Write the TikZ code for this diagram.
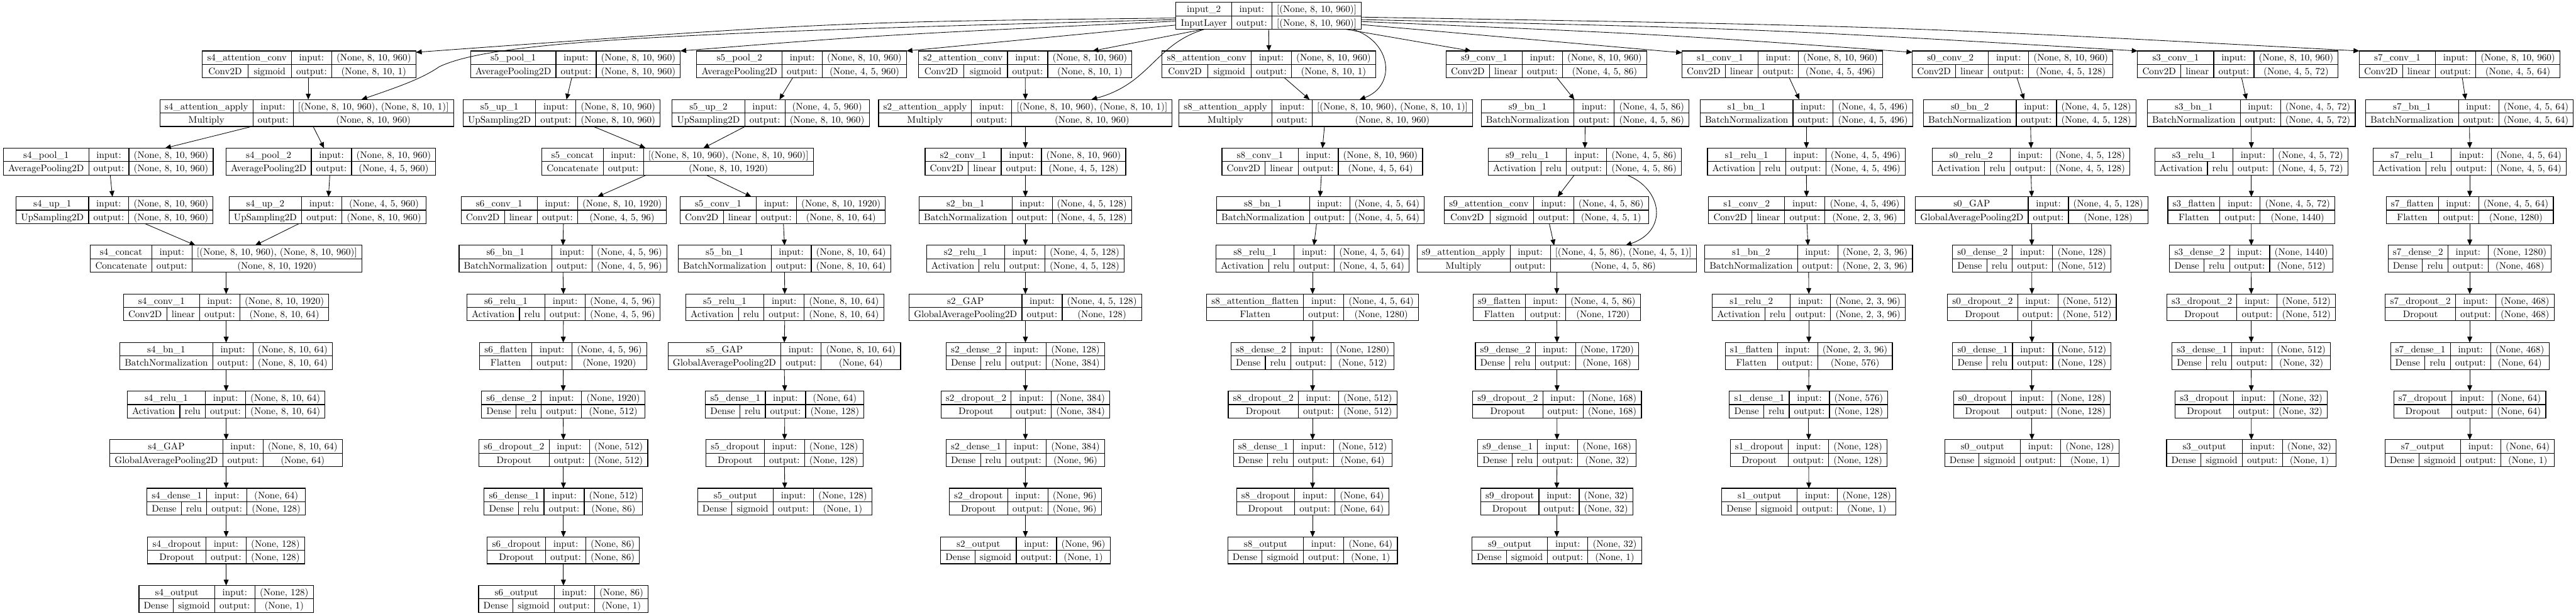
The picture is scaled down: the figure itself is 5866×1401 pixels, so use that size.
\documentclass[tikz,border=0pt]{standalone}
\usetikzlibrary{arrows.meta,calc}
\newdimen\kwT \newdimen\kwC \newdimen\kwA \newdimen\kwI \newdimen\kwO \newdimen\kwIO
\newcommand\kfont{\fontsize{10.8}{13}\selectfont}
\tikzset{
  kline/.style={line width=0.8pt},
  ktext/.style={inner sep=0pt, font=\kfont, text height=7.6pt, text depth=0pt, anchor=center},
  kbox/.style={draw, line width=0.8pt, inner sep=0pt, outer sep=0pt, rectangle},
  kedge/.style={line width=0.6pt, -{Triangle[length=6.6pt,width=5.6pt]}},
}
\newcommand\kmeasure[2]{\pgfinterruptpicture\setbox0=\hbox{\normalfont\kfont #2}\global#1=\wd0\relax\endpgfinterruptpicture}
% \klayer{id}{cx px}{row}{title}{class}{act}{in}{out}
\newcommand\klayer[8]{%
  \kmeasure\kwT{#4}%
  \kmeasure\kwC{#5}%
  \kmeasure\kwA{#6}%
  \kmeasure\kwI{#7}%
  \kmeasure\kwO{#8}%
  \kmeasure\kwIO{output:}%
  \pgfmathsetmacro\kP{11}%
  \pgfmathsetmacro\kTop{\kwT+\kP}%
  \ifdim\kwA>0pt
    \pgfmathsetmacro\kBot{\kwC+\kwA+2*\kP}%
  \else
    \pgfmathsetmacro\kBot{\kwC+\kP}%
  \fi
  \pgfmathsetmacro\kcA{max(\kTop,\kBot)}%
  \pgfmathsetmacro\kcl{\kwC+\kP+(\kcA-\kBot)/2}%
  \pgfmathsetmacro\kcB{\kwIO+\kP}%
  \pgfmathsetmacro\kcC{max(\kwI,\kwO)+\kP}%
  \pgfmathsetmacro\kW{\kcA+\kcB+\kcC}%
  \pgfmathsetmacro\kX{#2*0.5}%
  \pgfmathsetmacro\kYt{-(5.4+110.6*#3)*0.5}%
  \pgfmathsetmacro\kH{30.6}%
  \pgfmathsetmacro\kYm{\kYt-\kH/2}%
  \pgfmathsetmacro\kYb{\kYt-\kH}%
  \pgfmathsetmacro\kL{\kX-\kW/2}%
  \pgfmathsetmacro\kR{\kX+\kW/2}%
  \pgfmathsetmacro\kXa{\kL+\kcA}%
  \pgfmathsetmacro\kXb{\kXa+\kcB}%
  \pgfmathsetmacro\kYu{\kYt-\kH/4}%
  \pgfmathsetmacro\kYd{\kYt-3*\kH/4}%
  \pgfmathsetmacro\kXt{(\kL+\kXa)/2}%
  \pgfmathsetmacro\kXio{(\kXa+\kXb)/2}%
  \pgfmathsetmacro\kXsh{(\kXb+\kR)/2}%
  \node[kbox, minimum width=\kW pt, minimum height=\kH pt] (#1) at (\kX pt,\kYm pt) {};
  \draw[kline] (\kL pt,\kYm pt) -- (\kR pt,\kYm pt);
  \draw[kline] (\kXa pt,\kYt pt) -- (\kXa pt,\kYb pt);
  \draw[kline] (\kXb pt,\kYt pt) -- (\kXb pt,\kYb pt);
  \node[ktext] at (\kXt pt,\kYu pt) {#4};
  \ifdim\kwA>0pt
    \pgfmathsetmacro\kXs{\kL+\kcl}%
    \pgfmathsetmacro\kXc{(\kL+\kXs)/2}%
    \pgfmathsetmacro\kXact{(\kXs+\kXa)/2}%
    \draw[kline] (\kXs pt,\kYm pt) -- (\kXs pt,\kYb pt);
    \node[ktext] at (\kXc pt,\kYd pt) {#5};
    \node[ktext] at (\kXact pt,\kYd pt) {#6};
  \else
    \node[ktext] at (\kXt pt,\kYd pt) {#5};
  \fi
  \node[ktext] at (\kXio pt,\kYu pt) {input:};
  \node[ktext] at (\kXio pt,\kYd pt) {output:};
  \node[ktext] at (\kXsh pt,\kYu pt) {#7};
  \node[ktext] at (\kXsh pt,\kYd pt) {#8};
}
\newcommand\kE[4]{\draw[kedge] ($(#1.south)+(#3,0)$) -- ($(#2.north)+(#4,0)$);}
\begin{document}
\begin{tikzpicture}[x=0.5pt,y=-0.5pt]
\fill[white] (0,0) rectangle (5866,1401);
\useasboundingbox (0,0) rectangle (5866,1401);
% row 0
\klayer{in2}{2889}{0}{input\_2}{InputLayer}{}{[(None, 8, 10, 960)]}{[(None, 8, 10, 960)]}
% row 1
\klayer{s4ac}{704}{1}{s4\_attention\_conv}{Conv2D}{sigmoid}{(None, 8, 10, 960)}{(None, 8, 10, 1)}
\klayer{s5p1}{1310.5}{1}{s5\_pool\_1}{AveragePooling2D}{}{(None, 8, 10, 960)}{(None, 8, 10, 960)}
\klayer{s5p2}{1825.5}{1}{s5\_pool\_2}{AveragePooling2D}{}{(None, 8, 10, 960)}{(None, 4, 5, 960)}
\klayer{s2ac}{2334.6}{1}{s2\_attention\_conv}{Conv2D}{sigmoid}{(None, 8, 10, 960)}{(None, 8, 10, 1)}
\klayer{s8ac}{2889.5}{1}{s8\_attention\_conv}{Conv2D}{sigmoid}{(None, 8, 10, 960)}{(None, 8, 10, 1)}
\klayer{s9c1}{3521.5}{1}{s9\_conv\_1}{Conv2D}{linear}{(None, 8, 10, 960)}{(None, 4, 5, 86)}
\klayer{s1c1}{4058.5}{1}{s1\_conv\_1}{Conv2D}{linear}{(None, 8, 10, 960)}{(None, 4, 5, 496)}
\klayer{s0c2}{4583}{1}{s0\_conv\_2}{Conv2D}{linear}{(None, 8, 10, 960)}{(None, 4, 5, 128)}
\klayer{s3c1}{5096}{1}{s3\_conv\_1}{Conv2D}{linear}{(None, 8, 10, 960)}{(None, 4, 5, 72)}
\klayer{s7c1}{5601}{1}{s7\_conv\_1}{Conv2D}{linear}{(None, 8, 10, 960)}{(None, 4, 5, 64)}
% row 2
\klayer{s4aa}{698.5}{2}{s4\_attention\_apply}{Multiply}{}{[(None, 8, 10, 960), (None, 8, 10, 1)]}{(None, 8, 10, 960)}
\klayer{s5u1}{1279}{2}{s5\_up\_1}{UpSampling2D}{}{(None, 8, 10, 960)}{(None, 8, 10, 960)}
\klayer{s5u2}{1755}{2}{s5\_up\_2}{UpSampling2D}{}{(None, 4, 5, 960)}{(None, 8, 10, 960)}
\klayer{s2aa}{2335}{2}{s2\_attention\_apply}{Multiply}{}{[(None, 8, 10, 960), (None, 8, 10, 1)]}{(None, 8, 10, 960)}
\klayer{s8aa}{3019}{2}{s8\_attention\_apply}{Multiply}{}{[(None, 8, 10, 960), (None, 8, 10, 1)]}{(None, 8, 10, 960)}
\klayer{s9bn}{3609.6}{2}{s9\_bn\_1}{BatchNormalization}{}{(None, 4, 5, 86)}{(None, 4, 5, 86)}
\klayer{s1bn1}{4113.5}{2}{s1\_bn\_1}{BatchNormalization}{}{(None, 4, 5, 496)}{(None, 4, 5, 496)}
\klayer{s0bn2}{4622}{2}{s0\_bn\_2}{BatchNormalization}{}{(None, 4, 5, 128)}{(None, 4, 5, 128)}
\klayer{s3bn}{5126.6}{2}{s3\_bn\_1}{BatchNormalization}{}{(None, 4, 5, 72)}{(None, 4, 5, 72)}
\klayer{s7bn}{5623.5}{2}{s7\_bn\_1}{BatchNormalization}{}{(None, 4, 5, 64)}{(None, 4, 5, 64)}
% row 3
\klayer{s4p1}{246.6}{3}{s4\_pool\_1}{AveragePooling2D}{}{(None, 8, 10, 960)}{(None, 8, 10, 960)}
\klayer{s4p2}{753.5}{3}{s4\_pool\_2}{AveragePooling2D}{}{(None, 8, 10, 960)}{(None, 4, 5, 960)}
\klayer{s5cat}{1543}{3}{s5\_concat}{Concatenate}{}{[(None, 8, 10, 960), (None, 8, 10, 960)]}{(None, 8, 10, 1920)}
\klayer{s2c1}{2335}{3}{s2\_conv\_1}{Conv2D}{linear}{(None, 8, 10, 960)}{(None, 4, 5, 128)}
\klayer{s8c1}{3011}{3}{s8\_conv\_1}{Conv2D}{linear}{(None, 8, 10, 960)}{(None, 4, 5, 64)}
\klayer{s9r1}{3609}{3}{s9\_relu\_1}{Activation}{relu}{(None, 4, 5, 86)}{(None, 4, 5, 86)}
\klayer{s1r1}{4113.5}{3}{s1\_relu\_1}{Activation}{relu}{(None, 4, 5, 496)}{(None, 4, 5, 496)}
\klayer{s0r2}{4625}{3}{s0\_relu\_2}{Activation}{relu}{(None, 4, 5, 128)}{(None, 4, 5, 128)}
\klayer{s3r1}{5126.7}{3}{s3\_relu\_1}{Activation}{relu}{(None, 4, 5, 72)}{(None, 4, 5, 72)}
\klayer{s7r1}{5624}{3}{s7\_relu\_1}{Activation}{relu}{(None, 4, 5, 64)}{(None, 4, 5, 64)}
% row 4
\klayer{s4u1}{261}{4}{s4\_up\_1}{UpSampling2D}{}{(None, 8, 10, 960)}{(None, 8, 10, 960)}
\klayer{s4u2}{746}{4}{s4\_up\_2}{UpSampling2D}{}{(None, 4, 5, 960)}{(None, 8, 10, 960)}
\klayer{s6c1}{1284}{4}{s6\_conv\_1}{Conv2D}{linear}{(None, 8, 10, 1920)}{(None, 4, 5, 96)}
\klayer{s5c1}{1782.5}{4}{s5\_conv\_1}{Conv2D}{linear}{(None, 8, 10, 1920)}{(None, 8, 10, 64)}
\klayer{s2bn}{2335}{4}{s2\_bn\_1}{BatchNormalization}{}{(None, 4, 5, 128)}{(None, 4, 5, 128)}
\klayer{s8bn}{3007}{4}{s8\_bn\_1}{BatchNormalization}{}{(None, 4, 5, 64)}{(None, 4, 5, 64)}
\klayer{s9acv}{3521.5}{4}{s9\_attention\_conv}{Conv2D}{sigmoid}{(None, 4, 5, 86)}{(None, 4, 5, 1)}
\klayer{s1c2}{4113.8}{4}{s1\_conv\_2}{Conv2D}{linear}{(None, 4, 5, 496)}{(None, 2, 3, 96)}
\klayer{s0gap}{4626.5}{4}{s0\_GAP}{GlobalAveragePooling2D}{}{(None, 4, 5, 128)}{(None, 128)}
\klayer{s3fl}{5126.7}{4}{s3\_flatten}{Flatten}{}{(None, 4, 5, 72)}{(None, 1440)}
\klayer{s7fl}{5624}{4}{s7\_flatten}{Flatten}{}{(None, 4, 5, 64)}{(None, 1280)}
% row 5
\klayer{s4cat}{515}{5}{s4\_concat}{Concatenate}{}{[(None, 8, 10, 960), (None, 8, 10, 960)]}{(None, 8, 10, 1920)}
\klayer{s6bn}{1282}{5}{s6\_bn\_1}{BatchNormalization}{}{(None, 4, 5, 96)}{(None, 4, 5, 96)}
\klayer{s5bn}{1786.5}{5}{s5\_bn\_1}{BatchNormalization}{}{(None, 8, 10, 64)}{(None, 8, 10, 64)}
\klayer{s2r1}{2335}{5}{s2\_relu\_1}{Activation}{relu}{(None, 4, 5, 128)}{(None, 4, 5, 128)}
\klayer{s8r1}{2989}{5}{s8\_relu\_1}{Activation}{relu}{(None, 4, 5, 64)}{(None, 4, 5, 64)}
\klayer{s9aa}{3545}{5}{s9\_attention\_apply}{Multiply}{}{[(None, 4, 5, 86), (None, 4, 5, 1)]}{(None, 4, 5, 86)}
\klayer{s1bn2}{4118.5}{5}{s1\_bn\_2}{BatchNormalization}{}{(None, 2, 3, 96)}{(None, 2, 3, 96)}
\klayer{s0d2}{4626.7}{5}{s0\_dense\_2}{Dense}{relu}{(None, 128)}{(None, 512)}
\klayer{s3d2}{5126.5}{5}{s3\_dense\_2}{Dense}{relu}{(None, 1440)}{(None, 512)}
\klayer{s7d2}{5624}{5}{s7\_dense\_2}{Dense}{relu}{(None, 1280)}{(None, 468)}
% row 6
\klayer{s4c1}{515}{6}{s4\_conv\_1}{Conv2D}{linear}{(None, 8, 10, 1920)}{(None, 8, 10, 64)}
\klayer{s6r1}{1283}{6}{s6\_relu\_1}{Activation}{relu}{(None, 4, 5, 96)}{(None, 4, 5, 96)}
\klayer{s5r1}{1787}{6}{s5\_relu\_1}{Activation}{relu}{(None, 8, 10, 64)}{(None, 8, 10, 64)}
\klayer{s2gap}{2335}{6}{s2\_GAP}{GlobalAveragePooling2D}{}{(None, 4, 5, 128)}{(None, 128)}
\klayer{s8af}{2989}{6}{s8\_attention\_flatten}{Flatten}{}{(None, 4, 5, 64)}{(None, 1280)}
\klayer{s9fl}{3545}{6}{s9\_flatten}{Flatten}{}{(None, 4, 5, 86)}{(None, 1720)}
\klayer{s1r2}{4119}{6}{s1\_relu\_2}{Activation}{relu}{(None, 2, 3, 96)}{(None, 2, 3, 96)}
\klayer{s0dr2}{4627}{6}{s0\_dropout\_2}{Dropout}{}{(None, 512)}{(None, 512)}
\klayer{s3dr2}{5126.4}{6}{s3\_dropout\_2}{Dropout}{}{(None, 512)}{(None, 512)}
\klayer{s7dr2}{5624}{6}{s7\_dropout\_2}{Dropout}{}{(None, 468)}{(None, 468)}
% row 7
\klayer{s4bn}{515}{7}{s4\_bn\_1}{BatchNormalization}{}{(None, 8, 10, 64)}{(None, 8, 10, 64)}
\klayer{s6fl}{1282.6}{7}{s6\_flatten}{Flatten}{}{(None, 4, 5, 96)}{(None, 1920)}
\klayer{s5gap}{1786}{7}{s5\_GAP}{GlobalAveragePooling2D}{}{(None, 8, 10, 64)}{(None, 64)}
\klayer{s2d2}{2335}{7}{s2\_dense\_2}{Dense}{relu}{(None, 128)}{(None, 384)}
\klayer{s8d2}{2989}{7}{s8\_dense\_2}{Dense}{relu}{(None, 1280)}{(None, 512)}
\klayer{s9d2}{3545.6}{7}{s9\_dense\_2}{Dense}{relu}{(None, 1720)}{(None, 168)}
\klayer{s1fl}{4119}{7}{s1\_flatten}{Flatten}{}{(None, 2, 3, 96)}{(None, 576)}
\klayer{s0d1}{4627}{7}{s0\_dense\_1}{Dense}{relu}{(None, 512)}{(None, 128)}
\klayer{s3d1}{5126.4}{7}{s3\_dense\_1}{Dense}{relu}{(None, 512)}{(None, 32)}
\klayer{s7d1}{5624}{7}{s7\_dense\_1}{Dense}{relu}{(None, 468)}{(None, 64)}
% row 8
\klayer{s4r1}{515}{8}{s4\_relu\_1}{Activation}{relu}{(None, 8, 10, 64)}{(None, 8, 10, 64)}
\klayer{s6d2}{1282.5}{8}{s6\_dense\_2}{Dense}{relu}{(None, 1920)}{(None, 512)}
\klayer{s5d1}{1787}{8}{s5\_dense\_1}{Dense}{relu}{(None, 64)}{(None, 128)}
\klayer{s2dr2}{2335}{8}{s2\_dropout\_2}{Dropout}{}{(None, 384)}{(None, 384)}
\klayer{s8dr2}{2989}{8}{s8\_dropout\_2}{Dropout}{}{(None, 512)}{(None, 512)}
\klayer{s9dr2}{3545.6}{8}{s9\_dropout\_2}{Dropout}{}{(None, 168)}{(None, 168)}
\klayer{s1d1}{4118.6}{8}{s1\_dense\_1}{Dense}{relu}{(None, 576)}{(None, 128)}
\klayer{s0dr}{4627}{8}{s0\_dropout}{Dropout}{}{(None, 128)}{(None, 128)}
\klayer{s3dr}{5126.6}{8}{s3\_dropout}{Dropout}{}{(None, 32)}{(None, 32)}
\klayer{s7dr}{5624}{8}{s7\_dropout}{Dropout}{}{(None, 64)}{(None, 64)}
% row 9
\klayer{s4gap}{515}{9}{s4\_GAP}{GlobalAveragePooling2D}{}{(None, 8, 10, 64)}{(None, 64)}
\klayer{s6dr2}{1283}{9}{s6\_dropout\_2}{Dropout}{}{(None, 512)}{(None, 512)}
\klayer{s5dr}{1786.5}{9}{s5\_dropout}{Dropout}{}{(None, 128)}{(None, 128)}
\klayer{s2d1}{2335}{9}{s2\_dense\_1}{Dense}{relu}{(None, 384)}{(None, 96)}
\klayer{s8d1}{2989}{9}{s8\_dense\_1}{Dense}{relu}{(None, 512)}{(None, 64)}
\klayer{s9d1}{3545.5}{9}{s9\_dense\_1}{Dense}{relu}{(None, 168)}{(None, 32)}
\klayer{s1dr}{4118.6}{9}{s1\_dropout}{Dropout}{}{(None, 128)}{(None, 128)}
\klayer{s0out}{4627}{9}{s0\_output}{Dense}{sigmoid}{(None, 128)}{(None, 1)}
\klayer{s3out}{5126.7}{9}{s3\_output}{Dense}{sigmoid}{(None, 32)}{(None, 1)}
\klayer{s7out}{5624}{9}{s7\_output}{Dense}{sigmoid}{(None, 64)}{(None, 1)}
% row 10
\klayer{s4d1}{515}{10}{s4\_dense\_1}{Dense}{relu}{(None, 64)}{(None, 128)}
\klayer{s6d1}{1283}{10}{s6\_dense\_1}{Dense}{relu}{(None, 512)}{(None, 86)}
\klayer{s5out}{1787}{10}{s5\_output}{Dense}{sigmoid}{(None, 128)}{(None, 1)}
\klayer{s2dr}{2335}{10}{s2\_dropout}{Dropout}{}{(None, 96)}{(None, 96)}
\klayer{s8dr}{2989}{10}{s8\_dropout}{Dropout}{}{(None, 64)}{(None, 64)}
\klayer{s9dr}{3545}{10}{s9\_dropout}{Dropout}{}{(None, 32)}{(None, 32)}
\klayer{s1out}{4119}{10}{s1\_output}{Dense}{sigmoid}{(None, 128)}{(None, 1)}
% row 11
\klayer{s4dr}{515}{11}{s4\_dropout}{Dropout}{}{(None, 128)}{(None, 128)}
\klayer{s6dr}{1283}{11}{s6\_dropout}{Dropout}{}{(None, 86)}{(None, 86)}
\klayer{s2out}{2335}{11}{s2\_output}{Dense}{sigmoid}{(None, 96)}{(None, 1)}
\klayer{s8out}{2989}{11}{s8\_output}{Dense}{sigmoid}{(None, 64)}{(None, 1)}
\klayer{s9out}{3545}{11}{s9\_output}{Dense}{sigmoid}{(None, 32)}{(None, 1)}
% row 12
\klayer{s4out}{515}{12}{s4\_output}{Dense}{sigmoid}{(None, 128)}{(None, 1)}
\klayer{s6out}{1283}{12}{s6\_output}{Dense}{sigmoid}{(None, 86)}{(None, 1)}

% ---- edges from input_2
\draw[kedge] ($(in2.west)+(0,5)$) .. controls (1900,50) .. ($(s4ac.north east)+(0,3)$);
\draw[kedge] ($(in2.west)+(0,8.6)$) .. controls (1500,75) and (1120,95) .. (1000,152) .. controls (960,180) and (900,200) .. ($(s4aa.north)+(124.5,0)$);
\draw[kedge] ($(in2.west)+(0,12.2)$) .. controls (2000,80) .. (s5p1.north east);
\draw[kedge] ($(in2.west)+(0,21)$) -- (s5p2.north east);
\draw[kedge] ($(in2.south)+(-149,0)$) -- ($(s2ac.north)+(153.4,0)$);
\draw[kedge] ($(in2.south)+(-146,0)$) .. controls (2630,100) and (2620,190) .. ($(s2aa.north)+(150,0)$);
\kE{in2}{s8ac}{0}{0}
\draw[kedge] ($(in2.south)+(191,0)$) .. controls (3170,95) and (3180,195) .. ($(s8aa.north)+(77,0)$);
\draw[kedge] ($(in2.south)+(175,0)$) -- ($(s9c1.north)+(-171.5,0)$);
\draw[kedge] ($(in2.east)+(0,20)$) -- ($(s1c1.north west)+(0,4)$);
\draw[kedge] ($(in2.east)+(0,13)$) .. controls (3800,79) .. ($(s0c2.north west)+(0,3)$);
\draw[kedge] ($(in2.east)+(0,8.6)$) .. controls (4000,65) .. (s3c1.north west);
\draw[kedge] ($(in2.east)+(0,3)$) .. controls (4300,59) .. (s7c1.north west);
% ---- s4
\kE{s4ac}{s4aa}{-2}{3.5}
\kE{s4aa}{s4p1}{-124.5}{129.4}
\kE{s4aa}{s4p2}{14.5}{-15.5}
\kE{s4p1}{s4u1}{4.4}{-5}
\kE{s4p2}{s4u2}{-2.5}{2}
\kE{s4u1}{s4cat}{69}{-70}
\kE{s4u2}{s4cat}{-65}{66}
\kE{s4cat}{s4c1}{0}{0}
\kE{s4c1}{s4bn}{0}{0}
\kE{s4bn}{s4r1}{0}{0}
\kE{s4r1}{s4gap}{0}{0}
\kE{s4gap}{s4d1}{0}{0}
\kE{s4d1}{s4dr}{0}{0}
\kE{s4dr}{s4out}{0}{0}
% ---- s5 / s6
\kE{s5p1}{s5u1}{-8.5}{11}
\kE{s5p2}{s5u2}{-20.5}{20}
\kE{s5u1}{s5cat}{72}{-73}
\kE{s5u2}{s5cat}{-58}{58.6}
\kE{s5cat}{s6c1}{-71}{76.5}
\kE{s5cat}{s5c1}{65}{-71.5}
\kE{s6c1}{s6bn}{-1}{0}
\kE{s5c1}{s5bn}{1.5}{0}
\kE{s6bn}{s6r1}{0}{0}
\kE{s6r1}{s6fl}{0}{0}
\kE{s6fl}{s6d2}{0}{0}
\kE{s6d2}{s6dr2}{0}{0}
\kE{s6dr2}{s6d1}{0}{0}
\kE{s6d1}{s6dr}{0}{0}
\kE{s6dr}{s6out}{0}{0}
\kE{s5bn}{s5r1}{0}{0}
\kE{s5r1}{s5gap}{0}{0}
\kE{s5gap}{s5d1}{0}{0}
\kE{s5d1}{s5dr}{0}{0}
\kE{s5dr}{s5out}{0}{0}
% ---- s2
\kE{s2ac}{s2aa}{0}{0}
\kE{s2aa}{s2c1}{0}{0}
\kE{s2c1}{s2bn}{0}{0}
\kE{s2bn}{s2r1}{0}{0}
\kE{s2r1}{s2gap}{0}{0}
\kE{s2gap}{s2d2}{0}{0}
\kE{s2d2}{s2dr2}{0}{0}
\kE{s2dr2}{s2d1}{0}{0}
\kE{s2d1}{s2dr}{0}{0}
\kE{s2dr}{s2out}{0}{0}
% ---- s8
\kE{s8ac}{s8aa}{35.5}{-37}
\kE{s8aa}{s8c1}{-3}{0.5}
\kE{s8c1}{s8bn}{-2}{-1}
\kE{s8bn}{s8r1}{-9}{3}
\kE{s8r1}{s8af}{0}{0}
\kE{s8af}{s8d2}{0}{0}
\kE{s8d2}{s8dr2}{0}{0}
\kE{s8dr2}{s8d1}{0}{0}
\kE{s8d1}{s8dr}{0}{0}
\kE{s8dr}{s8out}{0}{0}
% ---- s9
\kE{s9c1}{s9bn}{24}{-24.6}
\kE{s9bn}{s9r1}{0}{0}
\kE{s9r1}{s9acv}{-24}{25.5}
\draw[kedge] ($(s9r1.south)+(96,0)$) .. controls (3785,430) and (3800,525) .. ($(s9aa.north)+(157,0)$);
\kE{s9acv}{s9aa}{6.5}{-6}
\kE{s9aa}{s9fl}{0}{0}
\kE{s9fl}{s9d2}{0}{0}
\kE{s9d2}{s9dr2}{0}{0}
\kE{s9dr2}{s9d1}{0}{0}
\kE{s9d1}{s9dr}{0}{0}
\kE{s9dr}{s9out}{0}{0}
% ---- s1
\kE{s1c1}{s1bn1}{16}{-16}
\kE{s1bn1}{s1r1}{0}{0}
\kE{s1r1}{s1c2}{0}{0}
\kE{s1c2}{s1bn2}{1}{-1.5}
\kE{s1bn2}{s1r2}{0}{0}
\kE{s1r2}{s1fl}{0}{0}
\kE{s1fl}{s1d1}{0}{0}
\kE{s1d1}{s1dr}{0}{0}
\kE{s1dr}{s1out}{0}{0}
% ---- s0
\kE{s0c2}{s0bn2}{10}{-13}
\kE{s0bn2}{s0r2}{2}{0}
\kE{s0r2}{s0gap}{0}{0}
\kE{s0gap}{s0d2}{0}{0}
\kE{s0d2}{s0dr2}{0}{0}
\kE{s0dr2}{s0d1}{0}{0}
\kE{s0d1}{s0dr}{0}{0}
\kE{s0dr}{s0out}{0}{0}
% ---- s3
\kE{s3c1}{s3bn}{8.5}{-11}
\kE{s3bn}{s3r1}{0}{0}
\kE{s3r1}{s3fl}{0}{0}
\kE{s3fl}{s3d2}{0}{0}
\kE{s3d2}{s3dr2}{0}{0}
\kE{s3dr2}{s3d1}{0}{0}
\kE{s3d1}{s3dr}{0}{0}
\kE{s3dr}{s3out}{0}{0}
% ---- s7
\kE{s7c1}{s7bn}{6}{-9}
\kE{s7bn}{s7r1}{0}{0}
\kE{s7r1}{s7fl}{0}{0}
\kE{s7fl}{s7d2}{0}{0}
\kE{s7d2}{s7dr2}{0}{0}
\kE{s7dr2}{s7d1}{0}{0}
\kE{s7d1}{s7dr}{0}{0}
\kE{s7dr}{s7out}{0}{0}
\end{tikzpicture}
\end{document}
